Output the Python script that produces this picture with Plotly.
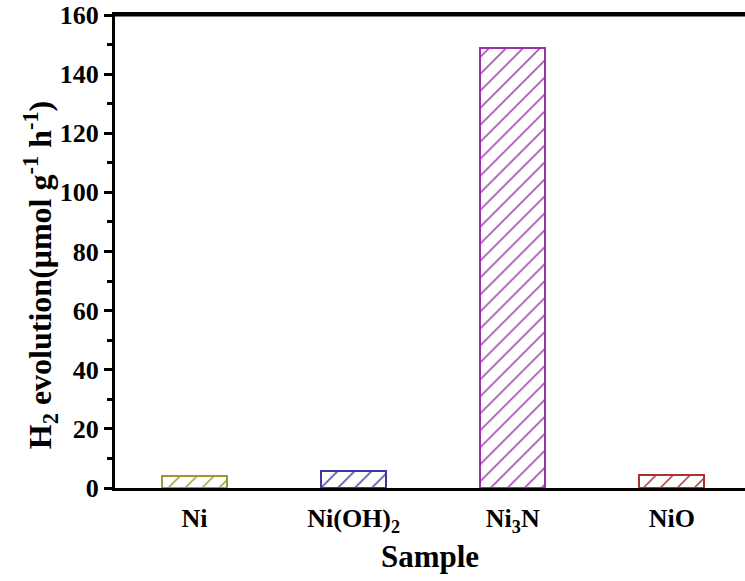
import plotly.graph_objects as go

categories = ["Ni", "Ni(OH)<sub>2</sub>", "Ni<sub>3</sub>N", "NiO"]
values = [4.0, 5.6, 149.0, 4.4]
colors = ["#9a9a30", "#3838a0", "#9a30aa", "#a83232"]
y_ticks = [0, 20, 40, 60, 80, 100, 120, 140, 160]

font_family = "Liberation Serif, Times New Roman, serif"

fig = go.Figure()
fig.add_trace(go.Bar(
    x=list(range(len(categories))),
    y=values,
    width=0.41,
    marker=dict(
        color="white",
        line=dict(color=colors, width=2),
        pattern=dict(shape="/", fgcolor=colors, fgopacity=1, bgcolor="white", size=12, solidity=0.12, fillmode="overlay"),
    ),
    showlegend=False,
    hoverinfo="skip",
))

fig.update_layout(
    width=745, height=581,
    margin=dict(l=115, r=0, t=15, b=93),
    plot_bgcolor="white", paper_bgcolor="white",
    font=dict(family=font_family, color="black"),
    bargap=0,
)
fig.update_xaxes(
    automargin=False,
    range=[-0.5, 3.46],
    tickmode="array", tickvals=list(range(len(categories))), ticktext=["<b>%s</b>" % c for c in categories],
    tickfont=dict(size=26, family=font_family),
    ticks="", ticklabelstandoff=5, showline=True, linewidth=3, linecolor="black", mirror=True,
    showgrid=False, zeroline=False,
    title=dict(text="<b>Sample</b>", font=dict(size=31, family=font_family), standoff=10),
)
fig.update_yaxes(
    automargin=False,
    range=[0, 160],
    tickmode="array", tickvals=y_ticks, ticktext=["<b>%d</b>" % v for v in y_ticks],
    tickfont=dict(size=26, family=font_family),
    ticklabeloverflow="allow",
    ticks="outside", ticklen=8, tickwidth=3, tickcolor="black",
    minor=dict(ticks="outside", ticklen=5, tickwidth=3, tickcolor="black", dtick=10, showgrid=False),
    showline=True, linewidth=3, linecolor="black", mirror=False,
    showgrid=False, zeroline=False,
)
fig.add_annotation(
    text="<b>H<sub>2</sub> evolution(μmol g<sup>-1</sup> h<sup>-1</sup>)</b>",
    xref="paper", yref="paper", x=-0.119, y=0.45, xanchor="center", yanchor="middle",
    textangle=-90, showarrow=False, font=dict(size=32, family=font_family),
)
# top border line
fig.add_shape(type="line", xref="paper", yref="y", x0=0, x1=1, y0=160, y1=160, line=dict(color="black", width=3))

fig.write_html("out.html", config={"displayModeBar": False},
               post_script="document.body.style.margin='0px';")
